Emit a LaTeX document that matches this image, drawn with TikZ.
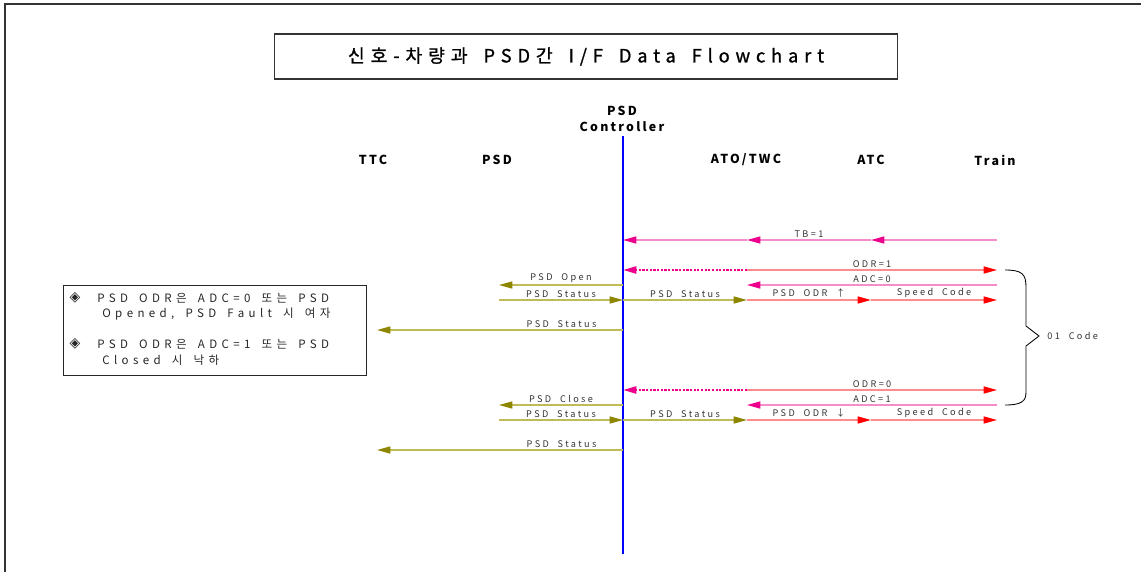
\documentclass[tikz,border=0pt]{standalone}
\usepackage{fontspec}
\setmainfont{Noto Sans CJK KR}[LetterSpace=26,WordSpace=2]
\newfontfamily\ttlfont{Noto Sans CJK KR}[LetterSpace=32,WordSpace=1.6,FakeBold=1]
\newfontfamily\hdrfont{Noto Sans CJK KR}[LetterSpace=18]
\newfontfamily\ntfont{Noto Sans CJK KR}[LetterSpace=38,WordSpace=1.6]
\newfontfamily\symfont{DejaVu Sans}
\usetikzlibrary{arrows.meta}

\begin{document}
\begin{tikzpicture}[x=0.025cm,y=-0.025cm,
  lbl/.style={font=\fontsize{6.5}{7}\selectfont,text=black!80,inner sep=1.5pt},
  hdr/.style={font=\hdrfont\fontsize{8.8}{11.3}\selectfont\bfseries,align=center},
  nt/.style={font=\ntfont\fontsize{8.2}{9}\selectfont,text=black!85,anchor=west,inner sep=0pt},
  ol/.style={draw=olive!55,line width=1pt,-{Triangle[length=9.5pt,width=5pt,color=olive]}},
  mg/.style={draw=magenta!45,line width=1pt,-{Triangle[length=9.5pt,width=5pt,color=magenta]}},
  rd/.style={draw=red!45,line width=1pt,-{Triangle[length=9.5pt,width=5pt,color=red]}},
  dt/.style={draw=magenta,line width=1.6pt,densely dotted,-{Triangle[length=9.5pt,width=5pt,color=magenta]}}]
\useasboundingbox (0,0) rectangle (1141,572);
\draw[black!80,line width=1pt] (5,572) -- (5,4) -- (1141,4);
\node[draw=black!80,line width=0.8pt,minimum width=15.55cm,minimum height=1.125cm,font=\ttlfont\fontsize{13}{15}\selectfont] (title) at (586,56.5) {신호-차량과 PSD간 I/F Data Flowchart};

\node[hdr] (ttch) at (373,160) {TTC};
\node[hdr] (psdh) at (497,160) {PSD};
\node[hdr] (ctlh) at (622,119) {PSD\\Controller};
\node[hdr] (atoh) at (746,160) {ATO/TWC};
\node[hdr] (atch) at (871,160) {ATC};
\node[hdr] (trnh) at (995,160) {Train};

\foreach \l/\x in {ttc/377,psd/499,ctl/623,ato/747,atc/871,trn/997}
  \foreach \r/\y in {tbr/240,odra/270,adca/285,sta/300,tta/330,odrb/390,adcb/405,stb/420,ttb/450}
    \coordinate (\l-\r) at (\x,\y);
\coordinate (ctltop) at (623,136);
\coordinate (ctlbot) at (623,554);
\draw[blue,line width=1.5pt] (ctltop) -- (ctlbot);

\draw[mg] (trn-tbr) -- (atc-tbr);
\draw[mg] (atc-tbr) -- node[lbl,above] (tb) {TB=1} (ato-tbr);
\draw[mg] (ato-tbr) -- (ctl-tbr);

\draw[rd] (ato-odra) -- node[lbl,above] (o1) {ODR=1} (trn-odra);
\draw[dt] (ato-odra) -- (ctl-odra);
\draw[mg] (trn-adca) -- node[lbl,above] (a0) {ADC=0} (ato-adca);
\draw[ol] (ctl-adca) -- node[lbl,above] (po) {PSD Open} (psd-adca);
\draw[ol] (psd-sta) -- node[lbl,above] (s1) {PSD Status} (ctl-sta);
\draw[ol] (ctl-sta) -- node[lbl,above] (s2) {PSD Status} (ato-sta);
\draw[rd] (ato-sta) -- node[lbl,above] (u1) {PSD ODR ↑} (atc-sta);
\draw[rd] (atc-sta) -- node[lbl,above] (c1) {Speed Code} (trn-sta);
\draw[ol] (ctl-tta) -- node[lbl,above,pos=0.25] (s3) {PSD Status} (ttc-tta);

\draw[rd] (ato-odrb) -- node[lbl,above] (o0) {ODR=0} (trn-odrb);
\draw[dt] (ato-odrb) -- (ctl-odrb);
\draw[mg] (trn-adcb) -- node[lbl,above] (a1) {ADC=1} (ato-adcb);
\draw[ol] (ctl-adcb) -- node[lbl,above] (pc) {PSD Close} (psd-adcb);
\draw[ol] (psd-stb) -- node[lbl,above] (s4) {PSD Status} (ctl-stb);
\draw[ol] (ctl-stb) -- node[lbl,above] (s5) {PSD Status} (ato-stb);
\draw[rd] (ato-stb) -- node[lbl,above] (d1) {PSD ODR ↓} (atc-stb);
\draw[rd] (atc-stb) -- node[lbl,above] (c2) {Speed Code} (trn-stb);
\draw[ol] (ctl-ttb) -- node[lbl,above,pos=0.25] (s6) {PSD Status} (ttc-ttb);

\draw[line width=0.6pt] (1005,270) .. controls (1022,270) and (1026,274) .. (1026,287) -- (1026,326) -- (1039,336) -- (1026,346) -- (1026,392) .. controls (1026,401) and (1022,405) .. (1005,405);
\node[lbl,anchor=west] (code) at (1045,336) {01 Code};

\draw[black!85,line width=0.7pt] (63,285) rectangle (366,375);
\node[nt,font=\symfont\fontsize{10}{10}\selectfont,anchor=center] (b1) at (75,298) {◈};
\node[nt] (n1) at (97,298) {PSD ODR은 ADC=0 또는 PSD};
\node[nt] (n2) at (102,314) {Opened, PSD Fault 시 여자};
\node[nt,font=\symfont\fontsize{10}{10}\selectfont,anchor=center] (b2) at (75,344) {◈};
\node[nt] (n3) at (97,344) {PSD ODR은 ADC=1 또는 PSD};
\node[nt] (n4) at (102,360) {Closed 시 낙하};
\end{tikzpicture}
\end{document}
